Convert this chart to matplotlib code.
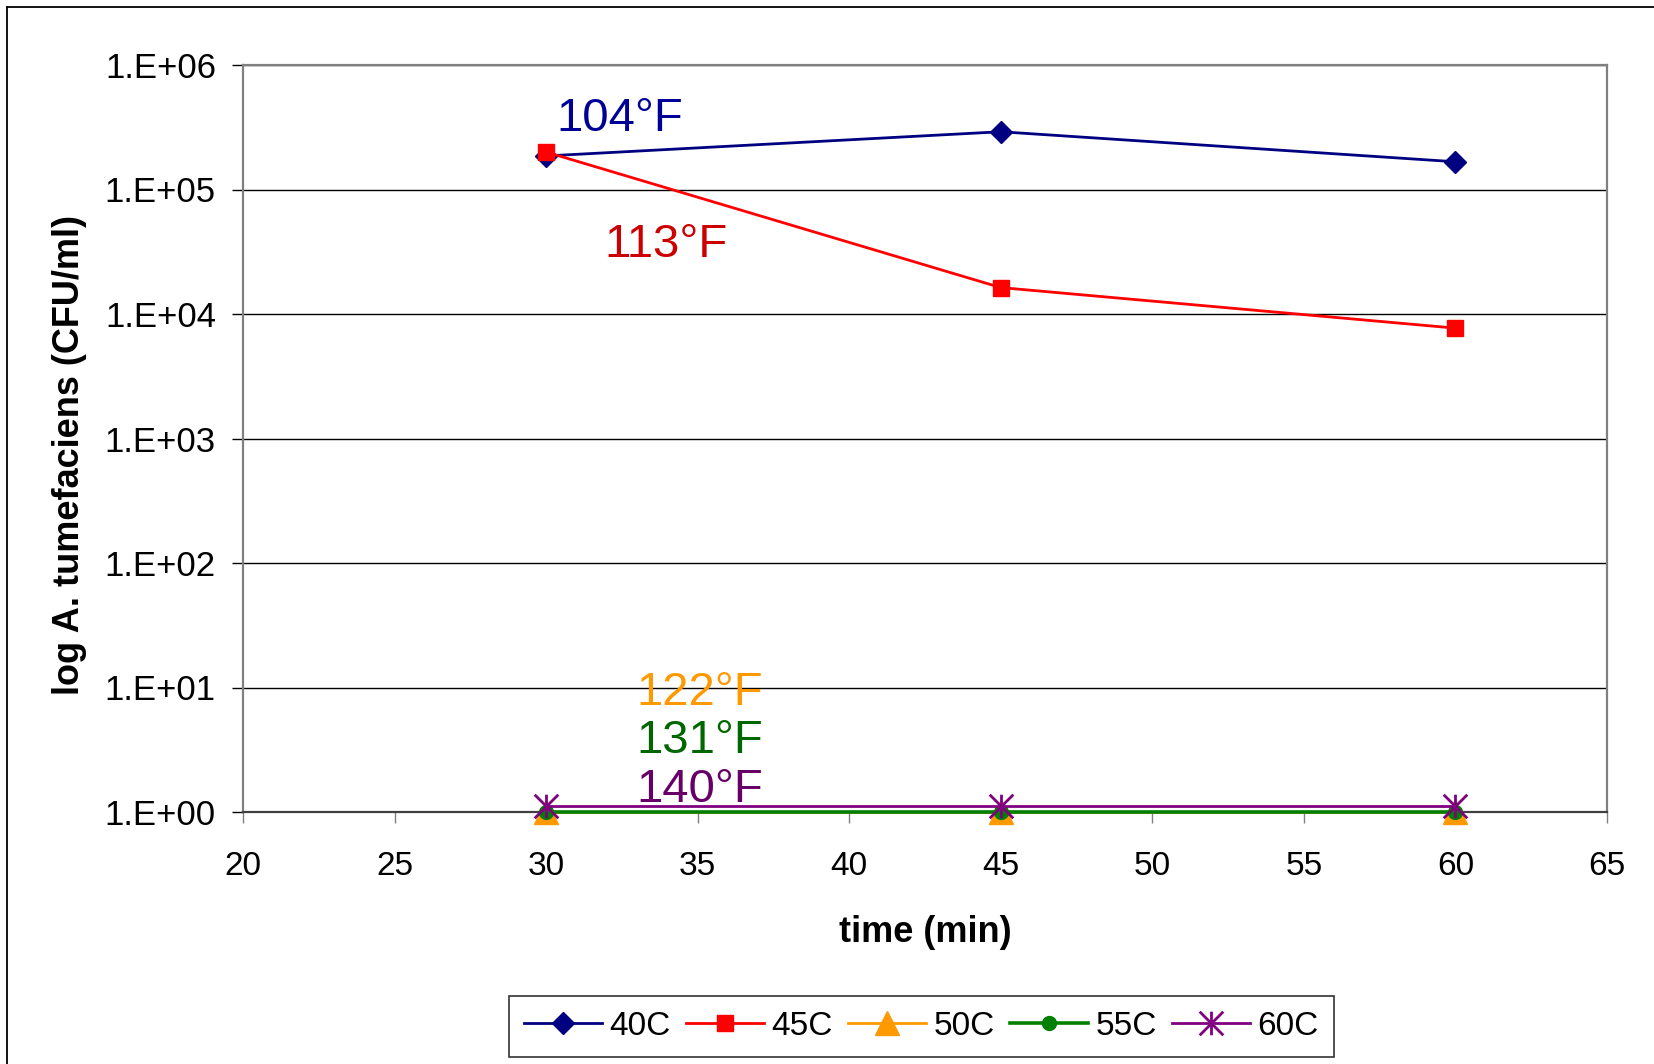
import matplotlib
matplotlib.use("Agg")
import matplotlib.pyplot as plt
from matplotlib.path import Path
from matplotlib.lines import Line2D
from matplotlib.ticker import FixedLocator, FixedFormatter, NullLocator

# ---------------- data ----------------
time_min = [30, 45, 60]
series_names = ["40C", "45C", "50C", "55C", "60C"]
cfu_40C = [1.86e5, 2.91e5, 1.67e5]
cfu_45C = [2.0e5, 1.63e4, 7.7e3]
cfu_50C = [1.0, 1.0, 1.0]
cfu_55C = [1.0, 1.0, 1.0]
cfu_60C = [1.12, 1.12, 1.12]

x_ticks = [20, 25, 30, 35, 40, 45, 50, 55, 60, 65]
y_ticks = [1e0, 1e1, 1e2, 1e3, 1e4, 1e5, 1e6]
y_tick_labels = ["1.E+00", "1.E+01", "1.E+02", "1.E+03", "1.E+04", "1.E+05", "1.E+06"]

annot_texts = ["104°F", "113°F", "122°F", "131°F", "140°F"]

# ---------------- style ----------------
plt.rcParams['font.family'] = ['Liberation Sans', 'DejaVu Sans']

W, H = 1654, 1064
fig = plt.figure(figsize=(W / 100, H / 100), dpi=100)
ax = fig.add_axes([243 / W, 1 - 812 / H, (1607 - 243) / W, (812 - 65) / H])

# six-armed asterisk (vertical + X)
star_path = Path(
    [(0, -1), (0, 1), (-1, -1), (1, 1), (-1, 1), (1, -1)],
    [Path.MOVETO, Path.LINETO, Path.MOVETO, Path.LINETO, Path.MOVETO, Path.LINETO],
)

styles = [
    dict(color="#000080", marker="D", ms=11.5, lw=2.0),
    dict(color="#FF0000", marker="s", ms=11.0, lw=2.0),
    dict(color="#FF9900", marker="^", ms=17, lw=2.0),
    dict(color="#008000", marker="o", ms=10, lw=2.6),
    dict(color="#800080", marker=star_path, ms=17, lw=2.0, mew=2.0),
]
all_series = [cfu_40C, cfu_45C, cfu_50C, cfu_55C, cfu_60C]

for name, vals, st in zip(series_names, all_series, styles):
    st = dict(st)
    mew = st.pop("mew", 1.0)
    ax.plot(time_min, vals, label=name, color=st["color"], marker=st["marker"],
            markersize=st["ms"], linewidth=st["lw"], markeredgewidth=mew,
            markerfacecolor=st["color"], markeredgecolor=st["color"],
            clip_on=False, zorder=3)

ax.set_yscale("log")
ax.set_xlim(20, 65)
ax.set_ylim(1, 1e6)
ax.yaxis.set_major_locator(FixedLocator(y_ticks))
ax.yaxis.set_major_formatter(FixedFormatter(y_tick_labels))
ax.yaxis.set_minor_locator(NullLocator())
ax.xaxis.set_major_locator(FixedLocator(x_ticks))
ax.set_xticklabels([str(t) for t in x_ticks])

# gridlines
ax.grid(axis="y", which="major", color="black", linewidth=1.0, zorder=0)
ax.set_axisbelow(True)

for side in ["left", "top", "right"]:
    ax.spines[side].set_color("#808080")
    ax.spines[side].set_linewidth(1.6)
ax.spines["bottom"].set_color("#404040")
ax.spines["bottom"].set_linewidth(1.6)

ax.tick_params(axis="y", direction="out", length=8, width=1.0, color="black",
               labelsize=25, pad=11.5)
ax.tick_params(axis="x", direction="out", length=8, width=1.0, color="#808080",
               labelsize=24, pad=20)

ax.set_xlabel("time (min)", fontsize=26, fontweight="bold", labelpad=24)
ax.set_ylabel("log A. tumefaciens (CFU/ml)", fontsize=26, fontweight="bold")
ax.yaxis.set_label_coords(-0.1145, 0.478)

# annotations
annot_pos = [(0.2295, 0.9116), (0.2650, 0.743), (0.2885, 0.1432), (0.2885, 0.0790), (0.2885, 0.0134)]
annot_colors = ["#000099", "#CC0000", "#FF9900", "#006600", "#660066"]
for txt, (xf, yf), c in zip(annot_texts, annot_pos, annot_colors):
    ax.text(xf, yf, txt, transform=ax.transAxes, fontsize=34, color=c,
            ha="left", va="baseline", zorder=4)

# legend
leg = fig.legend(loc="lower left", bbox_to_anchor=(509 / W, 7 / H), ncol=5,
                 fontsize=24, frameon=True, fancybox=False, shadow=False,
                 edgecolor="black", handlelength=2.35, handletextpad=0.22,
                 columnspacing=0.45, borderpad=0.45, borderaxespad=0)
leg.get_frame().set_linewidth(1.2)

# figure border (chart area frame partially visible)
fig.add_artist(Line2D([6.5 / W, 6.5 / W], [0, 1 - 7 / H], transform=fig.transFigure,
                      color="black", linewidth=1.3))
fig.add_artist(Line2D([6.5 / W, 1], [1 - 7 / H, 1 - 7 / H], transform=fig.transFigure,
                      color="black", linewidth=1.3))

fig.savefig("out.png", dpi=100, facecolor="white")
